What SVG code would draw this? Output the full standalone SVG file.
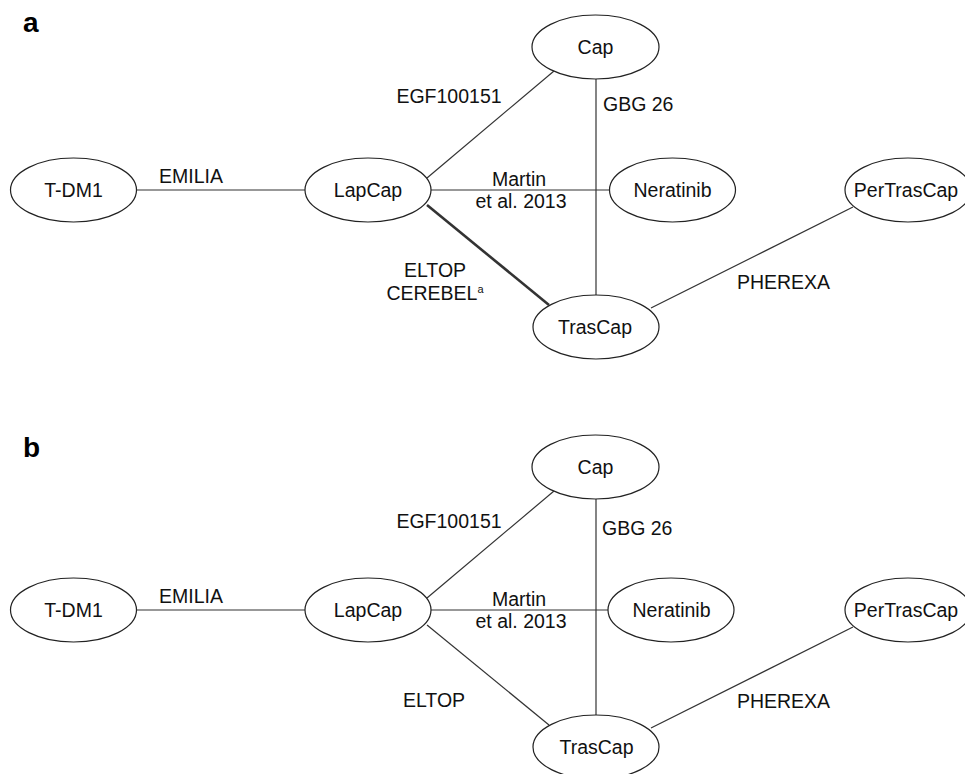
<svg xmlns="http://www.w3.org/2000/svg" width="965" height="774" viewBox="0 0 965 774">
<style>
  .n { fill: #fff; stroke: #222; stroke-width: 1.2; }
  .t { font-family: "Liberation Sans", Arial, sans-serif; font-size: 19.5px; fill: #111; }
  .m { text-anchor: middle; }
  .e { stroke: #333; stroke-width: 1.2; fill: none; }
  .thick { stroke: #333; stroke-width: 2.6; fill: none; }
  .p { font-family: "Liberation Sans", Arial, sans-serif; font-size: 28px; font-weight: bold; fill: #000; }
  .sup { font-size: 11px; }
</style>
<rect width="965" height="774" fill="#fff"/>

<!-- Panel a -->
<text class="p" x="23" y="32">a</text>
<g id="edges-a">
  <line class="e" x1="136.5" y1="190" x2="305" y2="190"/>
  <line class="e" x1="427" y1="178" x2="554" y2="71"/>
  <line class="e" x1="431" y1="190" x2="609.5" y2="190"/>
  <line class="e" x1="596" y1="79" x2="596" y2="295"/>
  <line class="thick" x1="427" y1="205" x2="549" y2="305"/>
  <line class="e" x1="651" y1="308" x2="853" y2="207"/>
  <text class="t m" x="191" y="183">EMILIA</text>
  <text class="t m" x="449" y="103">EGF100151</text>
  <text class="t" x="603" y="111">GBG 26</text>
  <text class="t m" x="519" y="186">Martin</text>
  <text class="t m" x="521" y="208">et al. 2013</text>
  <text class="t m" x="435" y="277">ELTOP</text>
  <text class="t m" x="435" y="300">CEREBEL<tspan class="sup" dy="-7">a</tspan></text>
  <text class="t m" x="783.5" y="289">PHEREXA</text>
</g>
<g id="a-TDM1"><ellipse class="n" cx="73.5" cy="190" rx="63" ry="32"/><text class="t m" x="73.5" y="197">T-DM1</text></g>
<g id="a-LapCap"><ellipse class="n" cx="368" cy="190" rx="63" ry="32"/><text class="t m" x="368" y="197">LapCap</text></g>
<g id="a-Cap"><ellipse class="n" cx="595.5" cy="47" rx="63.5" ry="32"/><text class="t m" x="595.5" y="54">Cap</text></g>
<g id="a-Neratinib"><ellipse class="n" cx="672.5" cy="190" rx="63" ry="32"/><text class="t m" x="672.5" y="197">Neratinib</text></g>
<g id="a-PerTrasCap"><ellipse class="n" cx="908" cy="190" rx="63" ry="32"/><text class="t m" x="906" y="197">PerTrasCap</text></g>
<g id="a-TrasCap"><ellipse class="n" cx="596" cy="327" rx="63" ry="32"/><text class="t m" x="595" y="334">TrasCap</text></g>

<!-- Panel b -->
<text class="p" x="23" y="457">b</text>
<g id="edges-b">
  <line class="e" x1="136.5" y1="610" x2="305" y2="610"/>
  <line class="e" x1="427" y1="598" x2="554" y2="491"/>
  <line class="e" x1="431" y1="610" x2="608.5" y2="610"/>
  <line class="e" x1="596" y1="499" x2="596" y2="715"/>
  <line class="e" x1="427" y1="625" x2="549" y2="725"/>
  <line class="e" x1="651" y1="728" x2="853" y2="627"/>
  <text class="t m" x="191" y="603">EMILIA</text>
  <text class="t m" x="449" y="528">EGF100151</text>
  <text class="t" x="602" y="535">GBG 26</text>
  <text class="t m" x="519" y="606">Martin</text>
  <text class="t m" x="521" y="628">et al. 2013</text>
  <text class="t m" x="434" y="707">ELTOP</text>
  <text class="t m" x="783.5" y="708">PHEREXA</text>
</g>
<g id="b-TDM1"><ellipse class="n" cx="73.5" cy="610" rx="63" ry="32"/><text class="t m" x="73.5" y="617">T-DM1</text></g>
<g id="b-LapCap"><ellipse class="n" cx="368" cy="610" rx="63" ry="32"/><text class="t m" x="368" y="617">LapCap</text></g>
<g id="b-Cap"><ellipse class="n" cx="595.5" cy="467" rx="63.5" ry="32"/><text class="t m" x="595.5" y="474">Cap</text></g>
<g id="b-Neratinib"><ellipse class="n" cx="671" cy="610" rx="63" ry="32"/><text class="t m" x="671.5" y="617">Neratinib</text></g>
<g id="b-PerTrasCap"><ellipse class="n" cx="908" cy="610" rx="63" ry="32"/><text class="t m" x="906" y="617">PerTrasCap</text></g>
<g id="b-TrasCap"><ellipse class="n" cx="596" cy="747" rx="63" ry="32"/><text class="t m" x="596.5" y="754">TrasCap</text></g>
</svg>
